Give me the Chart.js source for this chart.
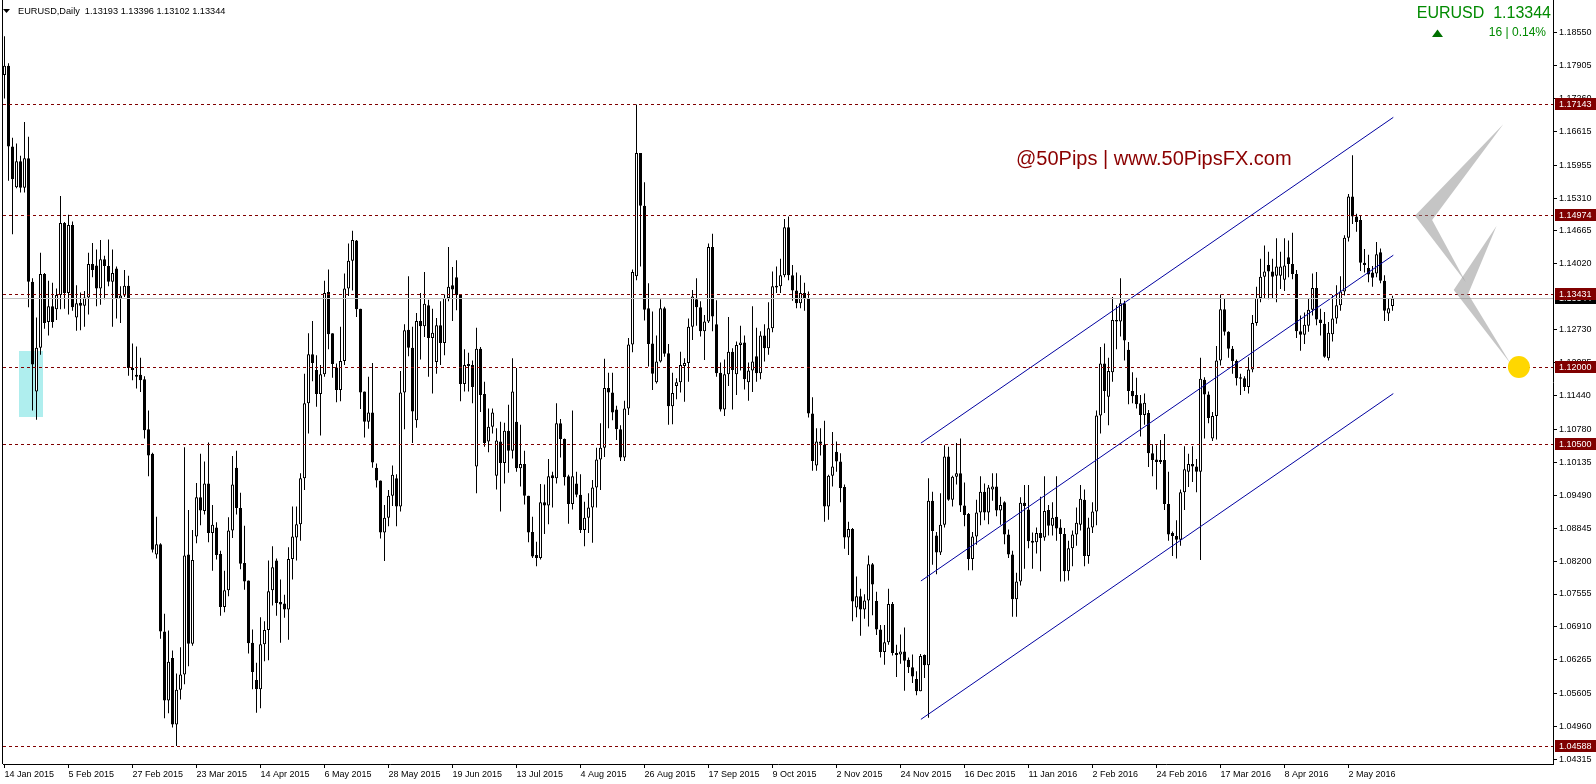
<!DOCTYPE html>
<html>
<head>
<meta charset="utf-8">
<title>EURUSD Daily</title>
<script src="https://cdn.jsdelivr.net/npm/chart.js@4.4.1/dist/chart.umd.min.js"></script>
<style>
  html, body { margin: 0; padding: 0; background: #fff; }
  #wrap { position: relative; width: 1596px; height: 784px; }
</style>
</head>
<body>
<div id="wrap"><canvas id="chart" width="1596" height="784"></canvas></div>
<script>
// EURUSD daily candles, 14 Jan 2015 .. mid May 2016
const OPEN = [
  1.1772,1.1790,1.1632,1.1552,1.1603,1.1551,1.1609,1.1367,1.1152,1.1238,
  1.1382,1.1288,1.1319,1.1313,1.1341,1.1482,1.1345,1.1478,1.1297,1.1326,
  1.1320,1.1336,1.1402,1.1399,1.1354,1.1411,1.1398,1.1367,1.1393,1.1334,
  1.1340,1.1359,1.1198,1.1185,1.1185,1.1176,1.1078,1.1030,1.0833,1.0853,
  1.0682,1.0547,1.0630,1.0500,1.0568,1.0598,1.0833,1.0658,1.0868,1.0945,
  1.0918,1.0972,1.0875,1.0886,1.0834,1.0730,1.0763,1.0880,1.1003,1.0924,
  1.0816,1.0782,1.0660,1.0587,1.0569,1.0657,1.0685,1.0763,1.0821,1.0740,
  1.0737,1.0725,1.0824,1.0866,1.0892,1.0982,1.1129,1.1225,1.1194,1.1147,
  1.1186,1.1347,1.1266,1.1199,1.1155,1.1212,1.1354,1.1408,1.1448,1.1314,
  1.1152,1.1093,1.1111,1.1003,1.0978,1.0876,1.0905,1.0948,1.0982,1.0927,
  1.1150,1.1273,1.1238,1.1096,1.1290,1.1280,1.1321,1.1257,1.1210,1.1282,
  1.1247,1.1335,1.1360,1.1376,1.1341,1.1167,1.1206,1.1204,1.1005,1.1236,
  1.1147,1.1054,1.1083,1.0987,1.1054,1.1012,1.1075,1.1036,1.1093,1.1002,
  1.1010,1.0948,1.0877,1.0832,1.0826,1.0935,1.0929,1.0988,1.0982,1.1090,
  1.1059,1.0986,1.0932,1.0972,1.0950,1.0881,1.0905,1.0925,1.0964,1.1019,
  1.1042,1.1159,1.1150,1.1117,1.1078,1.1023,1.1119,1.1244,1.1378,1.1619,
  1.1516,1.1315,1.1246,1.1170,1.1211,1.1315,1.1227,1.1123,1.1163,1.1170,
  1.1202,1.1208,1.1279,1.1333,1.1317,1.1270,1.1289,1.1435,1.1284,1.1189,
  1.1117,1.1186,1.1230,1.1186,1.1243,1.1248,1.1170,1.1193,1.1221,1.1188,
  1.1262,1.1237,1.1276,1.1359,1.1358,1.1380,1.1474,1.1380,1.1350,1.1325,
  1.1345,1.1335,1.1109,1.1007,1.1054,1.1048,1.0927,1.0987,1.1034,1.1015,
  1.0965,1.0866,1.0883,1.0729,1.0751,1.0725,1.0743,1.0814,1.0742,1.0686,
  1.0642,1.0661,1.0736,1.0640,1.0637,1.0643,1.0627,1.0612,1.0589,1.0565,
  1.0636,1.0616,1.0938,1.0870,1.0837,1.0891,1.1025,1.0940,1.0985,1.0992,
  1.0929,1.0912,1.0824,1.0868,1.0915,1.0956,1.0915,1.0960,1.0966,1.0919,
  1.0935,1.0872,1.0833,1.0745,1.0780,1.0934,1.0921,1.0860,1.0857,1.0875,
  1.0866,1.0920,1.0889,1.0907,1.0886,1.0873,1.0800,1.0845,1.0872,1.0891,
  1.0940,1.0830,1.0886,1.0917,1.1105,1.1207,1.1142,1.1190,1.1292,1.1289,
  1.1325,1.1234,1.1153,1.1145,1.1129,1.1106,1.1110,1.1031,1.1019,1.1014,
  1.1018,1.0932,1.0875,1.0869,1.0862,1.0955,1.0995,1.1010,1.1005,1.0995,
  1.1175,1.1146,1.1060,1.1104,1.1213,1.1313,1.1269,1.1236,1.1212,1.1180,
  1.1178,1.1161,1.1195,1.1286,1.1335,1.1377,1.1400,1.1387,1.1379,1.1379,
  1.1371,1.1415,1.1402,1.1382,1.1270,1.1263,1.1281,1.1312,1.1355,1.1293,
  1.1285,1.1217,1.1264,1.1295,1.1321,1.1348,1.1453,1.1534,1.1495,1.1488,
  1.1404,1.1394,1.1385,1.1383,1.1425,1.1369,1.1305,1.13193
];
const HIGH = [
  1.1848,1.1795,1.1649,1.1638,1.1614,1.1680,1.1651,1.1374,1.1297,1.1424,
  1.1384,1.1369,1.1365,1.1354,1.1535,1.1484,1.1498,1.1485,1.1360,1.1346,
  1.1349,1.1424,1.1443,1.1430,1.1449,1.1418,1.1450,1.1430,1.1397,1.1358,
  1.1390,1.1379,1.1246,1.1240,1.1218,1.1182,1.1115,1.1032,1.0907,1.0855,
  1.0717,1.0684,1.0645,1.0600,1.0651,1.1043,1.0920,1.0881,1.0973,1.1030,
  1.1015,1.1052,1.0930,1.0896,1.0840,1.0801,1.0906,1.1026,1.1036,1.0954,
  1.0889,1.0782,1.0686,1.0621,1.0710,1.0702,1.0821,1.0849,1.0825,1.0784,
  1.0754,1.0847,1.0927,1.0927,1.0992,1.1187,1.1266,1.1290,1.1223,1.1204,
  1.1369,1.1391,1.1266,1.1207,1.1279,1.1383,1.1442,1.1467,1.1449,1.1314,
  1.1152,1.1181,1.1208,1.1011,1.0978,1.0930,1.0959,1.1007,1.0990,1.1192,
  1.1284,1.1378,1.1279,1.1306,1.1345,1.1386,1.1332,1.1314,1.1296,1.1329,
  1.1342,1.1435,1.1396,1.1409,1.1342,1.1235,1.1228,1.1213,1.1277,1.1239,
  1.1171,1.1119,1.1119,1.1080,1.1093,1.1091,1.1126,1.1217,1.1198,1.1087,
  1.1036,1.0948,1.0907,1.0858,1.0971,1.0970,1.1020,1.0995,1.1129,1.1098,
  1.1060,1.0989,1.1115,1.0995,1.0990,1.0936,1.0953,1.0979,1.1042,1.1090,
  1.1216,1.1189,1.1189,1.1124,1.1086,1.1134,1.1257,1.1391,1.1714,1.1619,
  1.1562,1.1364,1.1309,1.1262,1.1333,1.1318,1.1245,1.1189,1.1178,1.1230,
  1.1217,1.1295,1.1351,1.1374,1.1329,1.1302,1.1442,1.1461,1.1331,1.1209,
  1.1215,1.1298,1.1237,1.1250,1.1281,1.1262,1.1209,1.1319,1.1277,1.1270,
  1.1284,1.1327,1.1387,1.1397,1.1412,1.1490,1.1495,1.1400,1.1385,1.1380,
  1.1365,1.1348,1.1141,1.1080,1.1080,1.1095,1.0989,1.1073,1.1054,1.1031,
  1.0970,1.0897,1.0885,1.0790,1.0766,1.0755,1.0831,1.0816,1.0760,1.0695,
  1.0695,1.0766,1.0740,1.0656,1.0676,1.0690,1.0631,1.0637,1.0604,1.0638,
  1.0637,1.0982,1.0956,1.0877,1.0953,1.1047,1.1044,1.0987,1.1051,1.1060,
  1.0974,1.0914,1.0877,1.0940,1.0986,1.0972,1.0969,1.0992,1.0992,1.0946,
  1.0937,1.0882,1.0840,1.0797,1.0945,1.0969,1.0969,1.0876,1.0886,1.0946,
  1.0986,1.0930,1.0935,1.0986,1.0902,1.0885,1.0860,1.0880,1.0925,1.0969,
  1.0960,1.0905,1.0935,1.1115,1.1239,1.1246,1.1218,1.1337,1.1321,1.1374,
  1.1330,1.1249,1.1190,1.1179,1.1145,1.1148,1.1116,1.1049,1.1047,1.1057,
  1.1069,1.0995,1.0878,1.0900,1.0960,1.1045,1.1030,1.1045,1.1020,1.1218,
  1.1180,1.1152,1.1112,1.1241,1.1342,1.1334,1.1270,1.1241,1.1215,1.1187,
  1.1182,1.1219,1.1302,1.1357,1.1412,1.1438,1.1426,1.1412,1.1452,1.1426,
  1.1452,1.1448,1.1463,1.1390,1.1301,1.1307,1.1334,1.1383,1.1386,1.1314,
  1.1308,1.1288,1.1341,1.1360,1.1378,1.1458,1.1539,1.1615,1.1500,1.1497,
  1.1431,1.1420,1.1398,1.1445,1.1432,1.1380,1.1335,1.13396
];
const LOW = [
  1.1726,1.1565,1.1460,1.1550,1.1542,1.1542,1.1317,1.1115,1.1097,1.1224,
  1.1275,1.1262,1.1277,1.1292,1.1313,1.1314,1.1303,1.1310,1.1271,1.1272,
  1.1279,1.1303,1.1376,1.1319,1.1322,1.1333,1.1358,1.1279,1.1295,1.1286,
  1.1337,1.1183,1.1174,1.1158,1.1151,1.1060,1.0986,1.0837,1.0825,1.0668,
  1.0512,1.0522,1.0494,1.0458,1.0549,1.0579,1.0614,1.0654,1.0855,1.0890,
  1.0911,1.0857,1.0801,1.0823,1.0713,1.0720,1.0751,1.0865,1.0911,1.0804,
  1.0764,1.0639,1.0569,1.0523,1.0532,1.0624,1.0626,1.0733,1.0713,1.0660,
  1.0709,1.0666,1.0784,1.0821,1.0860,1.0959,1.1070,1.1172,1.1122,1.1066,
  1.1181,1.1235,1.1179,1.1131,1.1133,1.1204,1.1339,1.1350,1.1298,1.1118,
  1.1062,1.1079,1.1003,1.0964,1.0864,1.0820,1.0888,1.0928,1.0888,1.0917,
  1.1078,1.1221,1.1051,1.1081,1.1215,1.1259,1.1181,1.1148,1.1187,1.1204,
  1.1223,1.1329,1.1290,1.1311,1.1133,1.1152,1.1152,1.1129,1.0953,1.1112,
  1.1044,1.1033,1.1070,1.0960,1.0917,1.0972,1.0993,1.1021,1.0995,1.0966,
  1.0931,1.0857,1.0826,1.0810,1.0823,1.0873,1.0892,1.0925,1.0972,1.1023,
  1.0968,1.0893,1.0921,1.0945,1.0875,1.0849,1.0875,1.0856,1.0925,1.0959,
  1.1024,1.1080,1.1096,1.1057,1.1016,1.1016,1.1106,1.1229,1.1370,1.1397,
  1.1291,1.1201,1.1155,1.1168,1.1209,1.1220,1.1087,1.1088,1.1137,1.1150,
  1.1132,1.1171,1.1253,1.1281,1.1260,1.1214,1.1286,1.1270,1.1181,1.1113,
  1.1104,1.1163,1.1117,1.1145,1.1193,1.1156,1.1134,1.1151,1.1171,1.1176,
  1.1211,1.1224,1.1268,1.1345,1.1345,1.1376,1.1370,1.1330,1.1315,1.1315,
  1.1310,1.1101,1.0997,1.0997,1.1027,1.0897,1.0901,1.0966,1.0995,1.0935,
  1.0844,1.0832,1.0702,1.0710,1.0674,1.0707,1.0692,1.0714,1.0675,1.0631,
  1.0617,1.0656,1.0635,1.0593,1.0619,1.0566,1.0601,1.0581,1.0557,1.0565,
  1.0591,1.0513,1.0813,1.0794,1.0832,1.0886,1.0938,1.0927,1.0970,1.0916,
  1.0888,1.0802,1.0802,1.0852,1.0890,1.0900,1.0892,1.0938,1.0908,1.0891,
  1.0853,1.0826,1.0711,1.0711,1.0772,1.0805,1.0845,1.0805,1.0835,1.0800,
  1.0860,1.0870,1.0870,1.0860,1.0780,1.0780,1.0782,1.0810,1.0850,1.0880,
  1.0810,1.0815,1.0875,1.0890,1.1070,1.1110,1.1086,1.1171,1.1235,1.1260,
  1.1213,1.1127,1.1129,1.1119,1.1064,1.1087,1.1004,1.0986,1.0960,1.1010,
  1.0920,1.0860,1.0830,1.0825,1.0850,1.0920,1.0965,1.0975,1.0955,1.0822,
  1.1060,1.1090,1.1055,1.1058,1.1203,1.1262,1.1218,1.1187,1.1164,1.1145,
  1.1153,1.1148,1.1190,1.1281,1.1327,1.1335,1.1333,1.1335,1.1327,1.1353,
  1.1349,1.1376,1.1372,1.1257,1.1232,1.1245,1.1269,1.1301,1.1282,1.1262,
  1.1218,1.1213,1.1250,1.1285,1.1310,1.1340,1.1446,1.1480,1.1465,1.1388,
  1.1385,1.1366,1.1357,1.1376,1.1364,1.1290,1.1290,1.13102
];
const CLOSE = [
  1.1790,1.1632,1.1568,1.1603,1.1551,1.1609,1.1367,1.1205,1.1238,1.1382,
  1.1286,1.1319,1.1288,1.1341,1.1482,1.1345,1.1478,1.1317,1.1325,1.1320,
  1.1336,1.1402,1.1390,1.1354,1.1411,1.1398,1.1367,1.1384,1.1334,1.1340,
  1.1359,1.1198,1.1194,1.1181,1.1174,1.1076,1.1027,1.0842,1.0853,1.0682,
  1.0547,1.0623,1.0500,1.0568,1.0598,1.0831,1.0658,1.0822,1.0945,1.0919,
  1.0972,1.0875,1.0891,1.0832,1.0730,1.0763,1.0880,1.0970,1.0924,1.0815,
  1.0780,1.0659,1.0603,1.0569,1.0657,1.0685,1.0761,1.0808,1.0738,1.0735,
  1.0725,1.0824,1.0868,1.0892,1.0982,1.1129,1.1225,1.1208,1.1147,1.1186,
  1.1345,1.1264,1.1206,1.1155,1.1212,1.1354,1.1408,1.1449,1.1313,1.1150,
  1.1093,1.1111,1.1013,1.0978,1.0876,1.0905,1.0948,1.0989,1.0927,1.1150,
  1.1272,1.1238,1.1113,1.1290,1.1280,1.1324,1.1257,1.1267,1.1282,1.1247,
  1.1335,1.1357,1.1352,1.1341,1.1167,1.1204,1.1202,1.1161,1.1236,1.1145,
  1.1051,1.1083,1.1111,1.1056,1.1012,1.1075,1.1036,1.1152,1.1002,1.1010,
  1.0948,1.0876,1.0829,1.0826,1.0935,1.0929,1.0986,1.0982,1.1090,1.1059,
  1.0984,1.0932,1.0986,1.0950,1.0881,1.0905,1.0925,1.0964,1.1019,1.1042,
  1.1159,1.1150,1.1111,1.1078,1.1023,1.1119,1.1244,1.1386,1.1619,1.1516,
  1.1312,1.1245,1.1187,1.1211,1.1315,1.1226,1.1123,1.1149,1.1170,1.1204,
  1.1208,1.1279,1.1338,1.1317,1.1270,1.1289,1.1435,1.1299,1.1188,1.1117,
  1.1186,1.1230,1.1194,1.1243,1.1248,1.1176,1.1193,1.1211,1.1188,1.1262,
  1.1237,1.1276,1.1358,1.1356,1.1380,1.1474,1.1380,1.1350,1.1325,1.1345,
  1.1335,1.1109,1.1016,1.1054,1.1050,1.0927,1.0987,1.1005,1.1015,1.0963,
  1.0866,1.0883,1.0741,1.0751,1.0725,1.0743,1.0814,1.0774,1.0686,1.0642,
  1.0661,1.0736,1.0640,1.0636,1.0643,1.0625,1.0612,1.0594,1.0565,1.0634,
  1.0616,1.0938,1.0879,1.0837,1.0891,1.1025,1.0940,1.0985,1.0992,1.0929,
  1.0910,1.0824,1.0868,1.0915,1.0956,1.0915,1.0964,1.0966,1.0919,1.0930,
  1.0872,1.0833,1.0745,1.0780,1.0934,1.0928,1.0859,1.0856,1.0875,1.0865,
  1.0918,1.0889,1.0905,1.0884,1.0873,1.0800,1.0845,1.0872,1.0895,1.0942,
  1.0830,1.0886,1.0917,1.1105,1.1207,1.1153,1.1192,1.1292,1.1289,1.1325,
  1.1252,1.1153,1.1143,1.1127,1.1106,1.1130,1.1031,1.1018,1.1014,1.1018,
  1.0932,1.0872,1.0869,1.0862,1.0955,1.1000,1.1010,1.1005,1.0995,1.1177,
  1.1146,1.1100,1.1104,1.1213,1.1313,1.1269,1.1236,1.1212,1.1178,1.1177,
  1.1161,1.1195,1.1286,1.1335,1.1377,1.1387,1.1387,1.1377,1.1397,1.1397,
  1.1399,1.1402,1.1382,1.1270,1.1263,1.1283,1.1312,1.1355,1.1293,1.1286,
  1.1220,1.1267,1.1295,1.1321,1.1348,1.1453,1.1534,1.1495,1.1484,1.1404,
  1.1400,1.1381,1.1375,1.1421,1.1369,1.1310,1.1315,1.13344
];

// one date label every 16 bars, as MT4 prints them
const X_TICK_LABELS = [
  '14 Jan 2015', '5 Feb 2015', '27 Feb 2015', '23 Mar 2015', '14 Apr 2015', '6 May 2015',
  '28 May 2015', '19 Jun 2015', '13 Jul 2015', '4 Aug 2015', '26 Aug 2015', '17 Sep 2015',
  '9 Oct 2015', '2 Nov 2015', '24 Nov 2015', '16 Dec 2015', '11 Jan 2016', '2 Feb 2016',
  '24 Feb 2016', '17 Mar 2016', '8 Apr 2016', '2 May 2016'
];
const Y_TICKS = [
  1.18550, 1.17905, 1.17260, 1.16615, 1.15955, 1.15310, 1.14665, 1.14020, 1.12730, 1.12085,
  1.11440, 1.10780, 1.10135, 1.09490, 1.08845, 1.08200, 1.07555, 1.06910, 1.06265, 1.05605,
  1.04960, 1.04315
];

// horizontal levels and the current bid
const LEVELS = [1.17143, 1.14974, 1.13431, 1.12000, 1.10500, 1.04588];
const BID = 1.13344;

// rising channel: [startBar, startPrice, endBar, endPrice]
const CHANNEL_UPPER = [229.1, 1.1051, 347.2, 1.1689];
const CHANNEL_MID = [229.1, 1.0781, 347.2, 1.1419];
const CHANNEL_LOW = [229.1, 1.0510, 347.2, 1.1148];

// drawn objects: highlighted box, projected zigzag, target
const BOX = [3.7, 1.1231, 9.6, 1.1102];
const ZIGZAG_UPPER = [[374.7, 1.16756], [352.6, 1.14962], [365.3, 1.13666], [356.9, 1.14880]];
const ZIGZAG_LOWER = [[373.0, 1.14762], [362.3, 1.13509], [376.5, 1.12071], [365.9, 1.13431]];
const TARGET = [378.6, 1.1200];

const X_MIN = -0.375;
const X_MAX = 387.125;
const Y_MIN = 1.04226;
const Y_MAX = 1.19188;

const FONT = "'Liberation Sans', Arial, sans-serif";
Chart.defaults.font.family = FONT;

const bodies = CLOSE.map((c, i) => ({ x: i, y: [OPEN[i], c] }));
const wicks = HIGH.map((h, i) => ({ x: i, y: [LOW[i], h] }));
const seg = a => [{ x: a[0], y: a[1] }, { x: a[2], y: a[3] }];

const overlay = {
  id: 'overlay',
  beforeDatasetsDraw(chart) {
    const { ctx, scales: { x, y } } = chart;
    ctx.save();
    ctx.fillStyle = '#afeeee';
    const x0 = x.getPixelForValue(BOX[0]), x1 = x.getPixelForValue(BOX[2]);
    const y0 = y.getPixelForValue(BOX[1]), y1 = y.getPixelForValue(BOX[3]);
    ctx.fillRect(Math.round(x0), Math.round(y0), Math.round(x1 - x0), Math.round(y1 - y0));
    ctx.restore();
  },
  afterDatasetsDraw(chart) {
    const { ctx, chartArea: a, scales: { x, y } } = chart;
    ctx.save();
    ctx.lineWidth = 1;
    // bid line
    let py = Math.round(y.getPixelForValue(BID)) + 0.5;
    ctx.strokeStyle = '#c0c0c0';
    ctx.beginPath(); ctx.moveTo(a.left, py); ctx.lineTo(a.right, py); ctx.stroke();
    // dashed levels
    ctx.strokeStyle = '#800000';
    ctx.setLineDash([3, 3]);
    LEVELS.forEach(v => {
      py = Math.round(y.getPixelForValue(v)) + 0.5;
      ctx.beginPath(); ctx.moveTo(a.left, py); ctx.lineTo(a.right, py); ctx.stroke();
    });
    ctx.setLineDash([]);
    // target circle
    ctx.fillStyle = '#ffd700';
    ctx.beginPath();
    ctx.arc(x.getPixelForValue(TARGET[0]), y.getPixelForValue(TARGET[1]), 11, 0, Math.PI * 2);
    ctx.fill();
    // zigzag wedges
    ctx.fillStyle = 'rgba(140,140,140,0.5)';
    [ZIGZAG_UPPER, ZIGZAG_LOWER].forEach(poly => {
      ctx.beginPath();
      poly.forEach((p, i) => {
        const px = x.getPixelForValue(p[0]), pyy = y.getPixelForValue(p[1]);
        if (i === 0) ctx.moveTo(px, pyy); else ctx.lineTo(px, pyy);
      });
      ctx.closePath();
      ctx.fill();
    });
    ctx.restore();
  },
  afterDraw(chart) {
    const { ctx, chartArea: a, scales: { y } } = chart;
    ctx.save();
    // left frame
    ctx.fillStyle = '#000';
    ctx.fillRect(a.left - 1, 0, 1, a.bottom);
    // price tags on the axis
    ctx.font = '9px ' + FONT;
    ctx.textBaseline = 'middle';
    const tag = (v, bg) => {
      const py = Math.round(y.getPixelForValue(v));
      ctx.fillStyle = bg;
      ctx.fillRect(a.right + 2, py - 6, chart.width - a.right - 2, 12);
      ctx.fillStyle = '#fff';
      ctx.fillText(v.toFixed(5), a.right + 6, py + 0.5);
    };
    tag(BID, '#000');
    LEVELS.forEach(v => tag(v, '#800000'));
    // title
    ctx.fillStyle = '#000';
    ctx.beginPath(); ctx.moveTo(3, 9); ctx.lineTo(10, 9); ctx.lineTo(6.5, 13); ctx.closePath(); ctx.fill();
    ctx.font = '9.2px ' + FONT;
    ctx.textAlign = 'left';
    ctx.fillText('EURUSD,Daily  ' + [OPEN, HIGH, LOW, CLOSE].map(s => s[s.length - 1].toFixed(5)).join(' '), 18, 11);
    // quote box, top right
    ctx.fillStyle = '#008a00';
    ctx.textAlign = 'right';
    ctx.font = '16px ' + FONT;
    ctx.fillText('EURUSD  ' + BID.toFixed(5), 1551, 14);
    ctx.font = '12px ' + FONT;
    ctx.fillText('16 | 0.14%', 1546, 33);
    ctx.fillStyle = '#007000';
    ctx.beginPath(); ctx.moveTo(1432, 37); ctx.lineTo(1443, 37); ctx.lineTo(1437.5, 29.5); ctx.closePath(); ctx.fill();
    // watermark
    ctx.fillStyle = '#8b0000';
    ctx.textAlign = 'left';
    ctx.font = '20px ' + FONT;
    ctx.fillText('@50Pips | www.50PipsFX.com', 1016, 159);
    ctx.restore();
  }
};

new Chart(document.getElementById('chart'), {
  type: 'bar',
  data: {
    datasets: [
      {
        label: 'body',
        data: bodies,
        grouped: false,
        barThickness: 3,
        inflateAmount: 0,
        borderWidth: 1,
        borderColor: '#000',
        borderSkipped: false,
        minBarLength: 1,
        backgroundColor: c => (CLOSE[c.dataIndex] >= OPEN[c.dataIndex] ? '#fff' : '#000'),
        order: 1
      },
      {
        label: 'wick',
        data: wicks,
        grouped: false,
        barThickness: 1,
        inflateAmount: 0,
        borderWidth: 0,
        backgroundColor: '#000',
        order: 2
      },
      ...[CHANNEL_UPPER, CHANNEL_MID, CHANNEL_LOW].map(c => ({
        type: 'line',
        label: 'channel',
        data: seg(c),
        borderColor: '#0000a0',
        borderWidth: 1,
        pointRadius: 0,
        fill: false,
        order: 0
      }))
    ]
  },
  options: {
    responsive: false,
    animation: false,
    devicePixelRatio: 1,
    layout: { padding: { left: 3, top: 0, right: 0, bottom: 0 } },
    plugins: { legend: { display: false }, tooltip: { enabled: false } },
    scales: {
      x: {
        type: 'linear',
        min: X_MIN,
        max: X_MAX,
        offset: false,
        afterBuildTicks: s => { s.ticks = X_TICK_LABELS.map((_, i) => ({ value: i * 16 })); },
        afterFit: s => { s.height = 20; s.paddingLeft = 0; s.paddingRight = 0; },
        ticks: {
          autoSkip: false,
          maxRotation: 0,
          minRotation: 0,
          align: 'start',
          padding: 1,
          color: '#000',
          font: { size: 9 },
          callback: (v, i) => X_TICK_LABELS[i]
        },
        grid: { drawOnChartArea: false, drawTicks: true, tickLength: 4, color: '#000', offset: false },
        border: { display: true, color: '#000' }
      },
      y: {
        type: 'linear',
        position: 'right',
        min: Y_MIN,
        max: Y_MAX,
        afterBuildTicks: s => { s.ticks = Y_TICKS.map(v => ({ value: v })); },
        afterFit: s => { s.width = 43; s.paddingTop = 0; s.paddingBottom = 0; },
        ticks: {
          autoSkip: false,
          padding: 2,
          color: '#000',
          font: { size: 9 },
          callback: v => v.toFixed(5)
        },
        grid: { drawOnChartArea: false, drawTicks: true, tickLength: 4, color: '#000' },
        border: { display: true, color: '#000' }
      }
    }
  },
  plugins: [overlay]
});
</script>
</body>
</html>
